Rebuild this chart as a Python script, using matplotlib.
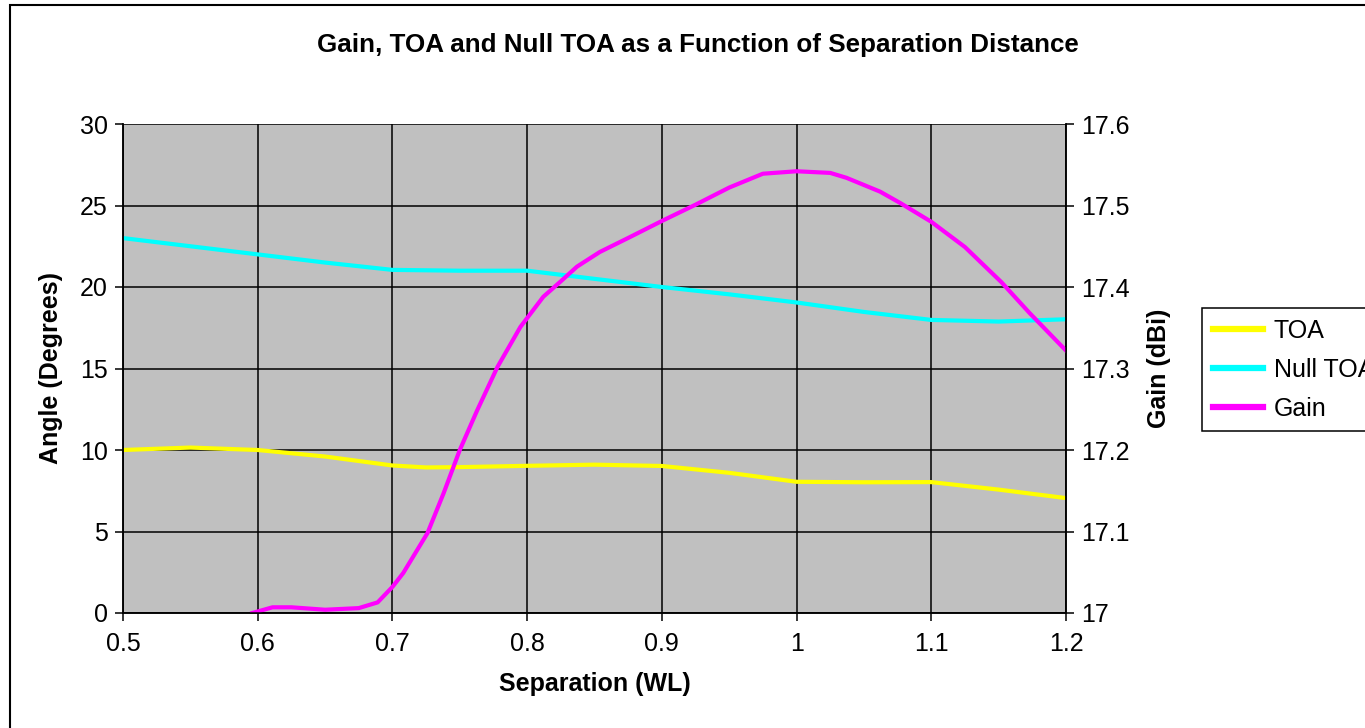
import matplotlib

matplotlib.use("Agg")
import matplotlib.pyplot as plt
from matplotlib.patches import Rectangle

# values
sep_toa = [0.5, 0.55, 0.6, 0.65, 0.7, 0.725, 0.75, 0.8, 0.85, 0.9, 0.95, 1.0, 1.05, 1.1, 1.15, 1.2]
toa = [10.0, 10.15, 10.0, 9.6, 9.05, 8.93, 8.95, 9.03, 9.1, 9.02, 8.6, 8.05, 8.02, 8.03, 7.57, 7.05]

sep_null = [0.5, 0.55, 0.6, 0.65, 0.7, 0.75, 0.8, 0.85, 0.9, 0.95, 1.0, 1.05, 1.1, 1.15, 1.2]
null_toa = [23.0, 22.5, 22.0, 21.5, 21.05, 21.0, 21.0, 20.5, 20.0, 19.55, 19.05, 18.47, 17.98, 17.88, 18.02]

sep_gain = [0.596, 0.611, 0.625, 0.65, 0.675, 0.689, 0.7, 0.708, 0.726, 0.738, 0.75, 0.763,
            0.778, 0.795, 0.812, 0.825, 0.837, 0.854, 0.876, 0.9, 0.925, 0.95, 0.975, 1.0,
            1.025, 1.037, 1.062, 1.077, 1.1, 1.125, 1.152, 1.173, 1.2]
gain = [17.0, 17.007, 17.007, 17.004, 17.006, 17.013, 17.032, 17.049, 17.098, 17.147, 17.2, 17.249,
        17.302, 17.351, 17.388, 17.407, 17.425, 17.443, 17.461, 17.481, 17.501, 17.522, 17.539, 17.542,
        17.54, 17.534, 17.517, 17.503, 17.48, 17.449, 17.406, 17.368, 17.322]

x_ticks = [0.5, 0.6, 0.7, 0.8, 0.9, 1.0, 1.1, 1.2]
x_labels = ["0.5", "0.6", "0.7", "0.8", "0.9", "1", "1.1", "1.2"]
angle_ticks = [0, 5, 10, 15, 20, 25, 30]
gain_ticks = [17.0, 17.1, 17.2, 17.3, 17.4, 17.5, 17.6]
gain_labels = ["17", "17.1", "17.2", "17.3", "17.4", "17.5", "17.6"]

plt.rcParams.update({
    "font.family": ["Liberation Sans", "DejaVu Sans"],
    "font.size": 18,
})

W, H = 1365, 728
fig = plt.figure(figsize=(W / 100, H / 100), dpi=100)
ax = fig.add_axes([123 / W, 1 - 613 / H, (1066 - 123) / W, (613 - 124) / H])
ax.set_facecolor("#C0C0C0")

l1, = ax.plot(sep_toa, toa, color="#FFFF00", lw=3, label="TOA")
l2, = ax.plot(sep_null, null_toa, color="#00FFFF", lw=3, label="Null TOA")
ax.set_xlim(0.5, 1.2)
ax.set_ylim(0, 30)
ax.set_xticks(x_ticks)
ax.set_xticklabels(x_labels)
ax.set_yticks(angle_ticks)
ax.grid(True, color="black", lw=1.1)
ax.set_axisbelow(True)
ax.tick_params(direction="out", length=6, width=1.1, color="black", labelsize=18, pad=5)
ax.tick_params(axis="x", pad=8)
for s in ax.spines.values():
    s.set_linewidth(1.1)
ax.spines["top"].set_visible(False)
ax.set_xlabel("Separation (WL)", fontweight="bold", fontsize=18, labelpad=11)
ax.set_ylabel("Angle (Degrees)", fontweight="bold", fontsize=18, labelpad=12)

ax2 = ax.twinx()
l3, = ax2.plot(sep_gain, gain, color="#FF00FF", lw=3, label="Gain")
ax2.set_ylim(17.0, 17.6)
ax2.set_yticks(gain_ticks)
ax2.set_yticklabels(gain_labels)
ax2.tick_params(direction="out", length=6, width=1.1, labelsize=18, pad=5)
for s in ax2.spines.values():
    s.set_linewidth(1.1)
ax2.spines["top"].set_visible(False)
ax2.set_ylabel("Gain (dBi)", fontweight="bold", fontsize=18, labelpad=12)

fig.text(698 / W, 1 - 45 / H,
         "Gain, TOA and Null TOA as a Function of Separation Distance",
         ha="center", va="center", fontweight="bold", fontsize=18.7)

leg = fig.legend([l1, l2, l3], ["TOA", "Null TOA", "Gain"], loc="upper left",
                 bbox_to_anchor=(1202 / W, 1 - 308 / H), borderaxespad=0,
                 fancybox=False, edgecolor="black", framealpha=1, fontsize=18,
                 handlelength=2.0, handletextpad=0.45, labelspacing=0.6,
                 borderpad=0.42)
leg.get_frame().set_linewidth(1.1)
for h in leg.legend_handles:
    h.set_linewidth(4.5)

fig.add_artist(Rectangle((10 / W, -0.05), 1.1, 1 - 5 / H + 0.05, transform=fig.transFigure,
                         fill=False, edgecolor="black", lw=1.5, clip_on=False))

fig.savefig("out.png", dpi=100)
